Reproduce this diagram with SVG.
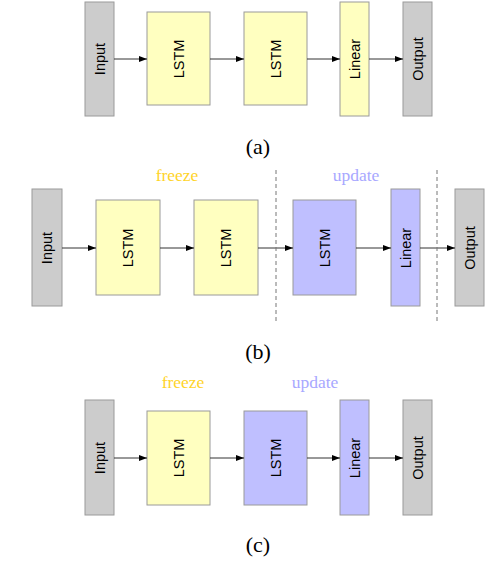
<svg xmlns="http://www.w3.org/2000/svg" width="486" height="584" viewBox="0 0 486 584">
<defs>
<style>
.gray{fill:#cccccc;stroke:#9a9a9a;stroke-width:1}
.yel{fill:#ffffc0;stroke:#9a9a9a;stroke-width:1}
.pur{fill:#bfbfff;stroke:#9a9a9a;stroke-width:1}
.lbl{font-family:"Liberation Sans",Arial,sans-serif;font-size:14.5px;fill:#000;text-anchor:middle;dominant-baseline:central}
.edge{stroke:#333;stroke-width:1;fill:none;marker-end:url(#ah)}
.dash{stroke:#777;stroke-width:1;stroke-dasharray:4,3;fill:none}
.cap{font-family:"Liberation Serif","Times New Roman",serif;font-size:22px;fill:#000;text-anchor:middle}
.frz{font-family:"Liberation Serif","Times New Roman",serif;font-size:17.5px;fill:#ffd42a;text-anchor:middle}
.upd{font-family:"Liberation Serif","Times New Roman",serif;font-size:17.5px;fill:#a8a8ff;text-anchor:middle}
</style>
<marker id="ah" markerUnits="userSpaceOnUse" markerWidth="9" markerHeight="8" refX="8" refY="4" orient="auto">
<path d="M0,1 L8,4 L0,7 Z" fill="#000"/>
</marker>
</defs>

<!-- Panel (a) -->
<g id="a-input"><rect class="gray" x="85" y="2" width="29" height="114"/><text class="lbl" transform="translate(99.5,59) rotate(-90)">Input</text></g>
<g id="a-lstm1"><rect class="yel" x="147" y="12" width="63" height="93"/><text class="lbl" transform="translate(178.5,59) rotate(-90)">LSTM</text></g>
<g id="a-lstm2"><rect class="yel" x="244" y="12" width="63" height="93"/><text class="lbl" transform="translate(275.5,59) rotate(-90)">LSTM</text></g>
<g id="a-linear"><rect class="yel" x="340" y="2" width="29" height="114"/><text class="lbl" transform="translate(354.5,59) rotate(-90)">Linear</text></g>
<g id="a-output"><rect class="gray" x="403" y="2" width="29" height="114"/><text class="lbl" transform="translate(417.5,59) rotate(-90)">Output</text></g>
<text class="cap" x="258" y="154">(a)</text>

<!-- Panel (b) -->
<text class="frz" x="177" y="181">freeze</text>
<text class="upd" x="356" y="181">update</text>
<g id="b-input"><rect class="gray" x="32" y="189" width="30" height="117"/><text class="lbl" transform="translate(47,248) rotate(-90)">Input</text></g>
<g id="b-lstm1"><rect class="yel" x="96" y="200" width="64" height="95"/><text class="lbl" transform="translate(128,248) rotate(-90)">LSTM</text></g>
<g id="b-lstm2"><rect class="yel" x="194" y="200" width="64" height="95"/><text class="lbl" transform="translate(226,248) rotate(-90)">LSTM</text></g>
<g id="b-lstm3"><rect class="pur" x="293" y="200" width="63" height="95"/><text class="lbl" transform="translate(324.5,248) rotate(-90)">LSTM</text></g>
<g id="b-linear"><rect class="pur" x="391" y="189" width="29" height="117"/><text class="lbl" transform="translate(405.5,248) rotate(-90)">Linear</text></g>
<g id="b-output"><rect class="gray" x="455" y="189" width="29" height="117"/><text class="lbl" transform="translate(469.5,248) rotate(-90)">Output</text></g>
<text class="cap" x="258" y="359">(b)</text>

<!-- Panel (c) -->
<text class="frz" x="183" y="388">freeze</text>
<text class="upd" x="315" y="388">update</text>
<g id="c-input"><rect class="gray" x="85" y="400" width="29" height="115"/><text class="lbl" transform="translate(99.5,458) rotate(-90)">Input</text></g>
<g id="c-lstm1"><rect class="yel" x="147" y="411" width="63" height="94"/><text class="lbl" transform="translate(178.5,458) rotate(-90)">LSTM</text></g>
<g id="c-lstm2"><rect class="pur" x="244" y="411" width="63" height="94"/><text class="lbl" transform="translate(275.5,458) rotate(-90)">LSTM</text></g>
<g id="c-linear"><rect class="pur" x="340" y="400" width="29" height="115"/><text class="lbl" transform="translate(354.5,458) rotate(-90)">Linear</text></g>
<g id="c-output"><rect class="gray" x="403" y="400" width="29" height="115"/><text class="lbl" transform="translate(417.5,458) rotate(-90)">Output</text></g>
<text class="cap" x="258" y="552">(c)</text>

<!-- Connectors -->
<g id="connectors">
<line class="edge" x1="114" y1="59" x2="147" y2="59"/>
<line class="edge" x1="210" y1="59" x2="244" y2="59"/>
<line class="edge" x1="307" y1="59" x2="340" y2="59"/>
<line class="edge" x1="369" y1="59" x2="403" y2="59"/>

<line class="edge" x1="62" y1="248" x2="96" y2="248"/>
<line class="edge" x1="160" y1="248" x2="194" y2="248"/>
<line class="edge" x1="258" y1="248" x2="293" y2="248"/>
<line class="edge" x1="356" y1="248" x2="391" y2="248"/>
<line class="edge" x1="420" y1="248" x2="455" y2="248"/>
<line class="dash" x1="276" y1="170" x2="276" y2="324"/>
<line class="dash" x1="437" y1="170" x2="437" y2="324"/>

<line class="edge" x1="114" y1="458" x2="147" y2="458"/>
<line class="edge" x1="210" y1="458" x2="244" y2="458"/>
<line class="edge" x1="307" y1="458" x2="340" y2="458"/>
<line class="edge" x1="369" y1="458" x2="403" y2="458"/>
</g>
</svg>
